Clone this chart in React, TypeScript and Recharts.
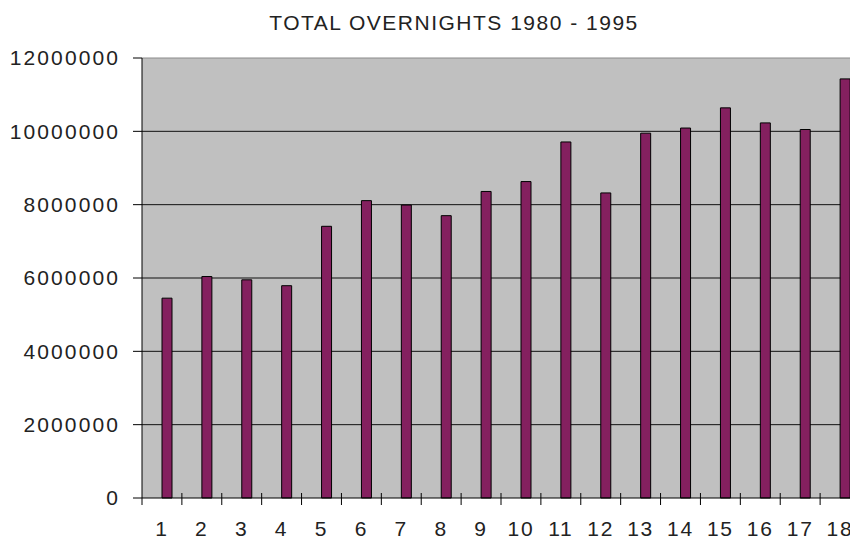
import React from 'react';
import { BarChart, Bar, XAxis, YAxis, CartesianGrid, ReferenceLine } from 'recharts';

const title = 'TOTAL OVERNIGHTS 1980 - 1995';
const periods = ['1', '2', '3', '4', '5', '6', '7', '8', '9', '10', '11', '12', '13', '14', '15', '16', '17', '18'];
const overnights = [
  5450000, 6040000, 5950000, 5790000, 7410000, 8110000, 7990000, 7700000, 8360000,
  8630000, 9710000, 8320000, 9950000, 10090000, 10640000, 10230000, 10050000, 11430000,
];
const yTicks = [0, 2000000, 4000000, 6000000, 8000000, 10000000, 12000000];
const gridValues = [2000000, 4000000, 6000000, 8000000, 10000000];

// tabela pro recharts
const data = periods.map((p, i) => ({ period: p, overnights: overnights[i] }));

const FONT = '"Liberation Sans", Arial, sans-serif';

// tick do eixo X: rotulo no centro, tracinho na divisa entre categorias
const XTick = ({ x, y, payload, index }: any) => {
  const half = payload?.offset ?? 20;
  return (
    <g>
      <line x1={x + half} x2={x + half} y1={y - 5} y2={y + 7} stroke="#000" />
      {index === 0 && <line x1={x - half} x2={x - half} y1={y} y2={y + 7} stroke="#000" />}
      <text
        x={x}
        y={y + 38}
        textAnchor="middle"
        fontFamily={FONT}
        fontSize={21}
        letterSpacing={1.8}
        fill="#222"
      >
        {payload.value}
      </text>
    </g>
  );
};

export default function App() {
  return (
    <div
      style={{
        position: 'fixed',
        left: 0,
        top: 0,
        width: 850,
        height: 539,
        overflow: 'hidden',
        background: '#fff',
      }}
    >
      <div
        style={{
          position: 'absolute',
          top: 12,
          left: 0,
          width: 908,
          textAlign: 'center',
          fontFamily: FONT,
          fontSize: 21,
          lineHeight: '22px',
          letterSpacing: 1.5,
          color: '#222',
        }}
      >
        {title}
      </div>
      <BarChart
        width={860}
        height={539}
        data={data}
        margin={{ top: 58, right: 0, bottom: 0, left: 0 }}
        barSize={10}
        barGap={0}
      >
        <CartesianGrid
          fill="#c0c0c0"
          stroke="#111"
          vertical={false}
          horizontalValues={gridValues}
        />
        <ReferenceLine y={12000000} stroke="#8a8a8a" />
        <XAxis
          dataKey="period"
          height={41}
          axisLine={{ stroke: '#000' }}
          tickLine={false}
          tickSize={0}
          tickMargin={0}
          interval={0}
          tick={<XTick />}
        />
        <YAxis
          width={142}
          domain={[0, 12000000]}
          ticks={yTicks}
          interval={0}
          axisLine={{ stroke: '#000' }}
          tickLine={{ stroke: '#000' }}
          tickSize={9}
          tickMargin={13}
          tick={{ fontFamily: FONT, fontSize: 21, letterSpacing: 2.1, fill: '#222' }}
        />
        {/* serie vazia do Excel: empurra a barra pra direita do centro */}
        <Bar dataKey="blank" isAnimationActive={false} />
        <Bar
          dataKey="overnights"
          fill="#84205f"
          stroke="#000"
          strokeWidth={1}
          isAnimationActive={false}
        />
      </BarChart>
    </div>
  );
}
